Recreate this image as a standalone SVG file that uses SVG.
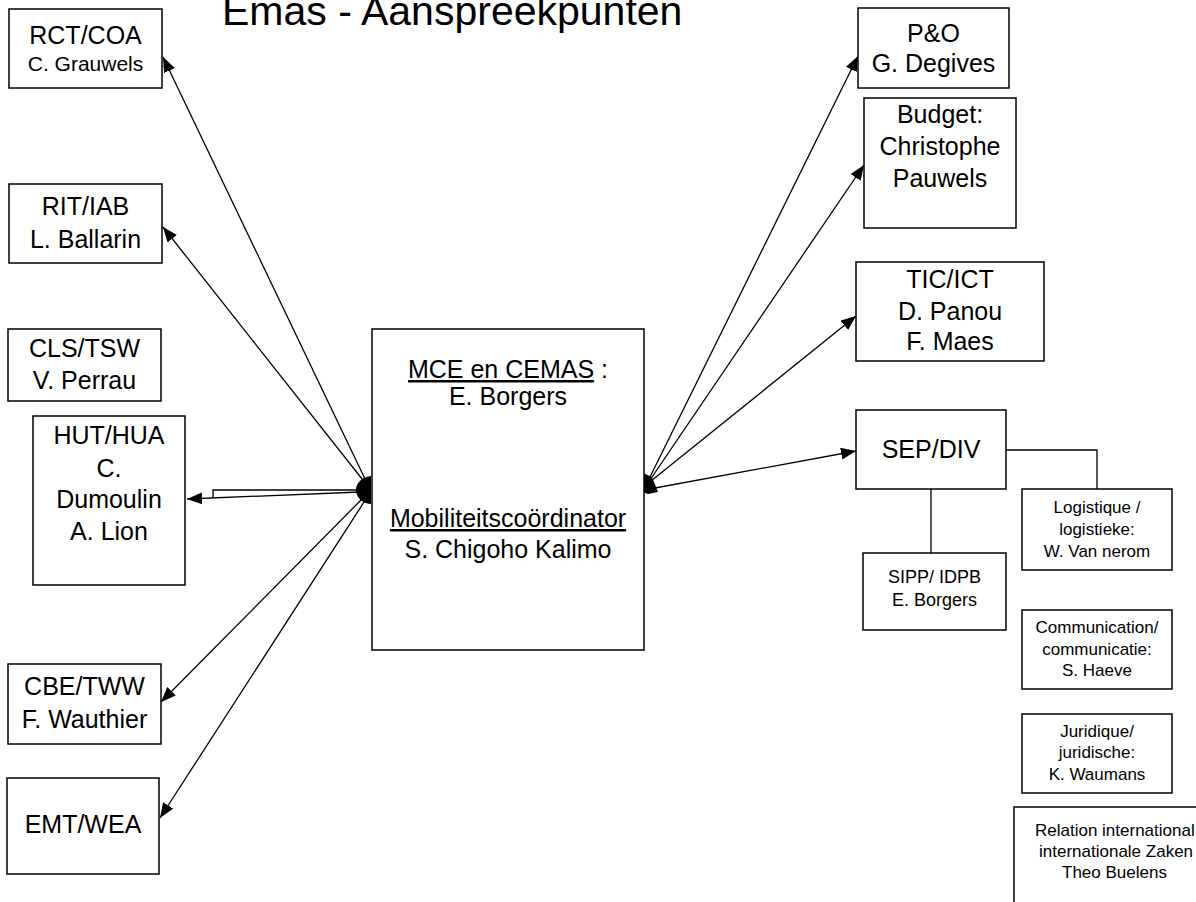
<svg xmlns="http://www.w3.org/2000/svg" width="1196" height="902" viewBox="0 0 1196 902">
<style>
  .box{fill:#fff;stroke:#000;stroke-width:1.5}
  .ln{fill:none;stroke:#000;stroke-width:1.3}
  text{font-family:"Liberation Sans",Arial,sans-serif;fill:#000}
  .t{font-size:25px;text-anchor:middle}
  .s{font-size:17px;text-anchor:middle}
  .m{font-size:18px;text-anchor:middle}
  .u{text-decoration:underline}
</style>
<defs>
  <marker id="ah" markerUnits="userSpaceOnUse" markerWidth="16" markerHeight="14" refX="15" refY="6" orient="auto">
    <path d="M0,0 L15,6 L0,12 Z" fill="#000"/>
  </marker>
</defs>
<rect width="1196" height="902" fill="#fff"/>
<text id="title" x="222" y="25" style="font-size:41px">Emas - Aanspreekpunten</text>

<g id="connectors">
  <line class="ln" x1="366" y1="481" x2="163" y2="57" marker-end="url(#ah)"/>
  <line class="ln" x1="366" y1="484" x2="163" y2="227" marker-end="url(#ah)"/>
  <polyline class="ln" points="360,490 213,490 213,498"/>
  <line class="ln" x1="360" y1="492" x2="187" y2="499" marker-end="url(#ah)"/>
  <line class="ln" x1="364" y1="497" x2="161" y2="702" marker-end="url(#ah)"/>
  <line class="ln" x1="366" y1="499" x2="160" y2="818" marker-end="url(#ah)"/>
  <path d="M371,476 C360,477 355,486 356,491 C357,499 364,504 371,504 Z" fill="#000"/>

  <line class="ln" x1="649" y1="479" x2="858" y2="56" marker-end="url(#ah)"/>
  <line class="ln" x1="650" y1="480" x2="864" y2="165" marker-end="url(#ah)"/>
  <line class="ln" x1="651" y1="481" x2="856" y2="316" marker-end="url(#ah)"/>
  <line class="ln" x1="655" y1="488" x2="856" y2="451" marker-end="url(#ah)"/>
  <path d="M643,473 L652,477 L658,492 L648,494 L643,492 Z" fill="#000"/>

  <polyline class="ln" points="1006,450 1097,450 1097,489"/>
  <line class="ln" x1="931" y1="489" x2="931" y2="553"/>
</g>

<g id="rct"><rect class="box" x="9" y="9" width="153" height="79"/>
  <text class="t" x="85.5" y="44">RCT/COA</text>
  <text class="t" x="85.5" y="71" style="font-size:21px">C. Grauwels</text></g>
<g id="rit"><rect class="box" x="9" y="184" width="153" height="79"/>
  <text class="t" x="85.5" y="215">RIT/IAB</text>
  <text class="t" x="85.5" y="248">L. Ballarin</text></g>
<g id="cls"><rect class="box" x="8" y="329" width="153" height="72"/>
  <text class="t" x="84.5" y="357">CLS/TSW</text>
  <text class="t" x="84.5" y="389">V. Perrau</text></g>
<g id="hut"><rect class="box" x="33" y="416" width="152" height="169"/>
  <text class="t" x="109" y="444">HUT/HUA</text>
  <text class="t" x="109" y="477">C.</text>
  <text class="t" x="109" y="508">Dumoulin</text>
  <text class="t" x="109" y="540">A. Lion</text></g>
<g id="cbe"><rect class="box" x="8" y="664" width="153" height="80"/>
  <text class="t" x="84.5" y="695">CBE/TWW</text>
  <text class="t" x="84.5" y="728">F. Wauthier</text></g>
<g id="emt"><rect class="box" x="7" y="778" width="152" height="96"/>
  <text class="t" x="83" y="833">EMT/WEA</text></g>

<g id="main"><rect class="box" x="372" y="329" width="272" height="321"/>
  <text class="t" x="508" y="378"><tspan class="u">MCE en CEMAS</tspan> :</text>
  <text class="t" x="508" y="405">E. Borgers</text>
  <text class="t u" x="508" y="527">Mobiliteitscoördinator</text>
  <text class="t" x="508" y="558">S. Chigoho Kalimo</text></g>

<g id="po"><rect class="box" x="858" y="8" width="151" height="80"/>
  <text class="t" x="933.5" y="42">P&amp;O</text>
  <text class="t" x="933.5" y="72">G. Degives</text></g>
<g id="budget"><rect class="box" x="864" y="98" width="152" height="130"/>
  <text class="t" x="940" y="123">Budget:</text>
  <text class="t" x="940" y="155">Christophe</text>
  <text class="t" x="940" y="187">Pauwels</text></g>
<g id="tic"><rect class="box" x="856" y="262" width="188" height="99"/>
  <text class="t" x="950" y="288">TIC/ICT</text>
  <text class="t" x="950" y="320">D. Panou</text>
  <text class="t" x="950" y="350">F. Maes</text></g>
<g id="sep"><rect class="box" x="856" y="410" width="150" height="79"/>
  <text class="t" x="931" y="458">SEP/DIV</text></g>
<g id="log"><rect class="box" x="1022" y="489" width="150" height="81"/>
  <text class="s" x="1097" y="513">Logistique /</text>
  <text class="s" x="1097" y="535">logistieke:</text>
  <text class="s" x="1097" y="557">W. Van nerom</text></g>
<g id="sipp"><rect class="box" x="863" y="553" width="143" height="77"/>
  <text class="m" x="934.5" y="583">SIPP/ IDPB</text>
  <text class="m" x="934.5" y="606">E. Borgers</text></g>
<g id="comm"><rect class="box" x="1022" y="610" width="150" height="79"/>
  <text class="s" x="1097" y="633">Communication/</text>
  <text class="s" x="1097" y="655">communicatie:</text>
  <text class="s" x="1097" y="676">S. Haeve</text></g>
<g id="jur"><rect class="box" x="1022" y="714" width="150" height="79"/>
  <text class="s" x="1097" y="737">Juridique/</text>
  <text class="s" x="1097" y="758">juridische:</text>
  <text class="s" x="1097" y="780">K. Waumans</text></g>
<g id="rel"><rect class="box" x="1014" y="807" width="200" height="110"/>
  <text class="s" x="1035" y="836" style="text-anchor:start">Relation international</text>
  <text class="s" x="1039" y="857" style="text-anchor:start">internationale Zaken</text>
  <text class="s" x="1062" y="878" style="text-anchor:start">Theo Buelens</text></g>
</svg>
